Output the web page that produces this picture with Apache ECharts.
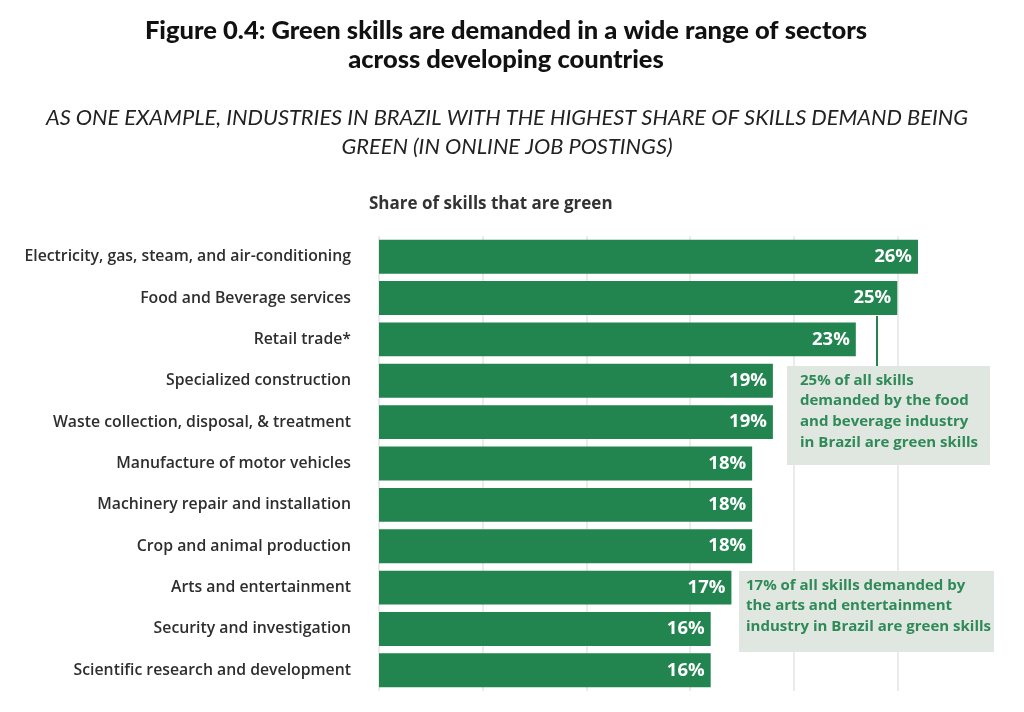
<!DOCTYPE html>
<html>
<head>
<meta charset="utf-8">
<script src="https://cdn.jsdelivr.net/npm/echarts@6/dist/echarts.min.js"></script>
<style>
html,body{margin:0;padding:0;background:#fff;}
#main{width:1024px;height:712px;}
</style>
</head>
<body>
<div id="main"></div>
<script>
const categories = [
  "Electricity, gas, steam, and air-conditioning",
  "Food and Beverage services",
  "Retail trade*",
  "Specialized construction",
  "Waste collection, disposal, & treatment",
  "Manufacture of motor vehicles",
  "Machinery repair and installation",
  "Crop and animal production",
  "Arts and entertainment",
  "Security and investigation",
  "Scientific research and development"
];
const values = [26, 25, 23, 19, 19, 18, 18, 18, 17, 16, 16];
const axisTicks = [0, 5, 10, 15, 20, 25];

const GREEN = "#22844f";
const TEXTGREEN = "#2f8a58";
const BOXFILL = "#dfe7e0";
const FONT = "'Open Sans', 'Noto Sans', sans-serif";
const TFONT = "Lato, 'Noto Sans', sans-serif";

const chart = echarts.init(document.getElementById('main'));
chart.setOption({
  backgroundColor: '#ffffff',
  animation: false,
  title: [
    {
      text: 'Figure 0.4: Green skills are demanded in a wide range of sectors\nacross developing countries',
      left: 501, top: 11, textAlign: 'center',
      textStyle: {fontFamily: TFONT, fontWeight: 900, fontSize: 25.5, lineHeight: 29, color: '#111'}
    },
    {
      text: 'AS ONE EXAMPLE, INDUSTRIES IN BRAZIL WITH THE HIGHEST SHARE OF SKILLS DEMAND BEING\nGREEN (IN ONLINE JOB POSTINGS)',
      left: 502, top: 98, textAlign: 'center',
      textStyle: {fontFamily: TFONT, fontStyle: 'italic', fontWeight: 'normal', fontSize: 21.8, lineHeight: 29, color: '#222'}
    },
    {
      text: 'Share of skills that are green',
      left: 369, top: 196, padding: 0,
      textStyle: {fontFamily: FONT, fontWeight: 'bold', fontSize: 17, color: '#333'}
    }
  ],
  grid: {left: 379, right: 106, top: 236, bottom: 21, containLabel: false},
  xAxis: {
    type: 'value', min: axisTicks[0], max: 26, interval: axisTicks[1] - axisTicks[0],
    axisLine: {show: false}, axisTick: {show: false}, axisLabel: {show: false},
    splitLine: {show: true, showMinLine: true, showMaxLine: false, lineStyle: {color: '#e4e4e4', width: 1.5}}
  },
  yAxis: {
    type: 'category', data: categories, inverse: true,
    axisLine: {show: false}, axisTick: {show: false},
    axisLabel: {margin: 28, fontFamily: FONT, fontSize: 15.8, fontWeight: 600, color: '#2e2e2e'}
  },
  series: [{
    type: 'bar', data: values, barCategoryGap: '18%',
    itemStyle: {color: GREEN},
    label: {
      show: true, position: 'insideRight', distance: 6,
      formatter: p => p.value + '%',
      fontFamily: FONT, fontWeight: 'bold', fontSize: 18.5, color: '#fff'
    }
  }],
  graphic: [
    {type: 'line', shape: {x1: 877, y1: 316, x2: 877, y2: 366}, style: {stroke: GREEN, lineWidth: 2}, z: 10},
    {type: 'rect', shape: {x: 787, y: 366, width: 203, height: 99}, style: {fill: BOXFILL}, z: 10},
    {type: 'text', left: 800, top: 370, z: 11,
      style: {text: '25% of all skills\ndemanded by the food\nand beverage industry\nin Brazil are green skills',
        font: 'bold 15px ' + FONT, lineHeight: 20.7, fill: TEXTGREEN}},
    {type: 'rect', shape: {x: 739, y: 571, width: 255, height: 81}, style: {fill: BOXFILL}, z: 10},
    {type: 'text', left: 746, top: 575, z: 11,
      style: {text: '17% of all skills demanded by\nthe arts and entertainment\nindustry in Brazil are green skills',
        font: 'bold 15px ' + FONT, lineHeight: 20.7, fill: TEXTGREEN}}
  ]
});
</script>
</body>
</html>
